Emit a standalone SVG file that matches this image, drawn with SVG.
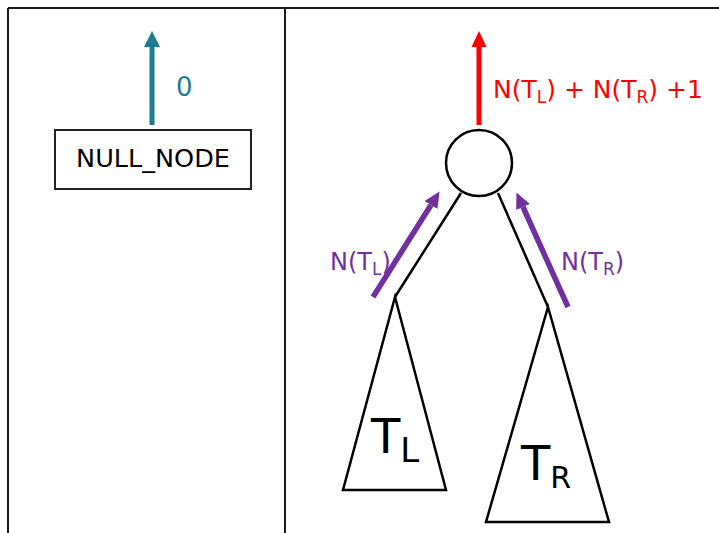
<svg xmlns="http://www.w3.org/2000/svg" width="719" height="533" viewBox="0 0 719 533">
<style>
text{font-family:"DejaVu Sans",sans-serif}
.frame{stroke:#1a1a1a;stroke-width:2;fill:none}
.edge{stroke:#000;stroke-width:2.5;fill:none}
.tri{stroke:#000;stroke-width:2.5;fill:#fff;stroke-linejoin:miter}
</style>
<defs>
<marker id="hTeal" markerUnits="userSpaceOnUse" markerWidth="16" markerHeight="16" refX="0" refY="8" orient="auto"><path d="M0,0 L16,8 L0,16 z" fill="#1F7B8F"/></marker>
<marker id="hRed" markerUnits="userSpaceOnUse" markerWidth="16" markerHeight="16" refX="0" refY="8" orient="auto"><path d="M0,0.5 L16,8 L0,15.5 z" fill="#FF0000"/></marker>
<marker id="hPurple" markerUnits="userSpaceOnUse" markerWidth="16" markerHeight="16" refX="0" refY="8" orient="auto"><path d="M0,0.5 L16,8 L0,15.5 z" fill="#7030A0"/></marker>
</defs>
<g id="frame">
<line class="frame" x1="8" y1="8" x2="719" y2="8"/>
<line class="frame" x1="8" y1="8" x2="8" y2="533"/>
<line class="frame" x1="285" y1="8" x2="285" y2="533"/>
</g>
<g id="null-node">
<rect x="55" y="130" width="196" height="59" fill="#fff" stroke="#222" stroke-width="2"/>
<text x="153" y="167" font-size="25.5" text-anchor="middle" fill="#000">NULL_NODE</text>
</g>
<g id="root">
<circle cx="479" cy="163" r="33" fill="#fff" stroke="#000" stroke-width="2.5"/>
</g>
<g id="TL">
<polygon class="tri" points="395,297 343,490 446,490"/>
<text x="371" y="453" font-size="48" fill="#000">T<tspan font-size="34" dy="9">L</tspan></text>
</g>
<g id="TR">
<polygon class="tri" points="548,307 486,522 609,522"/>
<text x="521" y="480" font-size="48" fill="#000">T<tspan font-size="30" dy="8">R</tspan></text>
</g>
<g id="connectors">
<line class="edge" x1="461" y1="193" x2="395" y2="297"/>
<line class="edge" x1="498" y1="193" x2="548" y2="307"/>
<line x1="152" y1="125" x2="152" y2="47" stroke="#1F7B8F" stroke-width="5" marker-end="url(#hTeal)"/>
<line x1="479" y1="125" x2="479" y2="47" stroke="#FF0000" stroke-width="5" marker-end="url(#hRed)"/>
<line x1="373" y1="297" x2="431" y2="205" stroke="#7030A0" stroke-width="5.5" marker-end="url(#hPurple)"/>
<line x1="568" y1="307" x2="523" y2="207" stroke="#7030A0" stroke-width="5.5" marker-end="url(#hPurple)"/>
</g>
<g id="labels">
<text x="176" y="96" font-size="26" fill="#1F7B8F">0</text>
<text x="493" y="98" font-size="25" fill="#FF0000">N(T<tspan font-size="17" dy="5">L</tspan><tspan dy="-5">) + N(T</tspan><tspan font-size="17" dy="5">R</tspan><tspan dy="-5">) +1</tspan></text>
<text x="330" y="270" font-size="24" fill="#7030A0">N(T<tspan font-size="17" dy="5">L</tspan><tspan dy="-5">)</tspan></text>
<text x="561" y="270" font-size="24" fill="#7030A0">N(T<tspan font-size="17" dy="5">R</tspan><tspan dy="-5">)</tspan></text>
</g>
</svg>
